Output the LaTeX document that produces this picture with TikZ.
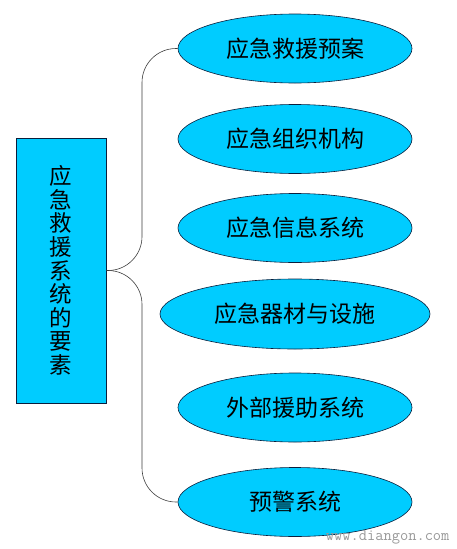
\documentclass[tikz,border=0pt]{standalone}
\usepackage{fontspec}
\newfontfamily\cjk{Noto Sans CJK SC}
\usetikzlibrary{positioning, shapes.geometric}
\definecolor{SkyCyan}{RGB}{0,204,255}
\definecolor{EdgeNavy}{RGB}{10,30,60}
\definecolor{WireGray}{RGB}{60,60,60}
\begin{document}
\begin{tikzpicture}[
  x=1pt, y=-1pt,
  font=\cjk\fontsize{23}{26.4}\selectfont,
  part/.style={
    ellipse,
    draw=EdgeNavy,
    fill=SkyCyan,
    line width=0.6pt,
    inner sep=0pt,
    minimum width=234pt,
    minimum height=69pt
  },
  hub/.style={
    rectangle,
    draw=EdgeNavy,
    fill=SkyCyan,
    line width=0.6pt,
    inner sep=0pt,
    minimum width=90pt,
    minimum height=265pt,
    align=center,
    font=\cjk\fontsize{22.5}{23.6}\selectfont
  },
  wire/.style={WireGray, line width=0.6pt, rounded corners=34pt},
]
  \useasboundingbox (0,0) rectangle (457,549);

  % ========== 左侧竖框 ==========
  \node[hub] (sys) at (61,270.5)
    {应\\急\\救\\援\\系\\统\\的\\要\\素};

  % ========== 右侧各要素 ==========
  \node[part] (p1) at (295,48.5)  {应急救援预案};
  \node[part] (p2) at (295,139)   {应急组织机构};
  \node[part] (p3) at (295,228)   {应急信息系统};
  \node[part, minimum width=270pt, minimum height=70pt] (p4) at (295,314)
    {应急器材与设施};
  \node[part] (p5) at (295,407.5) {外部援助系统};
  \node[part] (p6) at (295,502)   {预警系统};

  % ========== 大括号连线 ==========
  \coordinate (Bx) at (142,0);
  \coordinate (Bm) at (sys.east-|Bx);
  \coordinate (Bt) at (p1.west-|Bx);
  \coordinate (Bb) at (p6.west-|Bx);
  \draw[wire] (sys.east) -- (Bm) -- (Bt) -- (p1.west);
  \draw[wire] (sys.east) -- (Bm) -- (Bb) -- (p6.west);

  % 水印
  \node[anchor=east, font=\ttfamily\fontsize{16}{16}\selectfont, text=black!40]
    (mark) at (453,537) {www.diangon.com};
\end{tikzpicture}
\end{document}
